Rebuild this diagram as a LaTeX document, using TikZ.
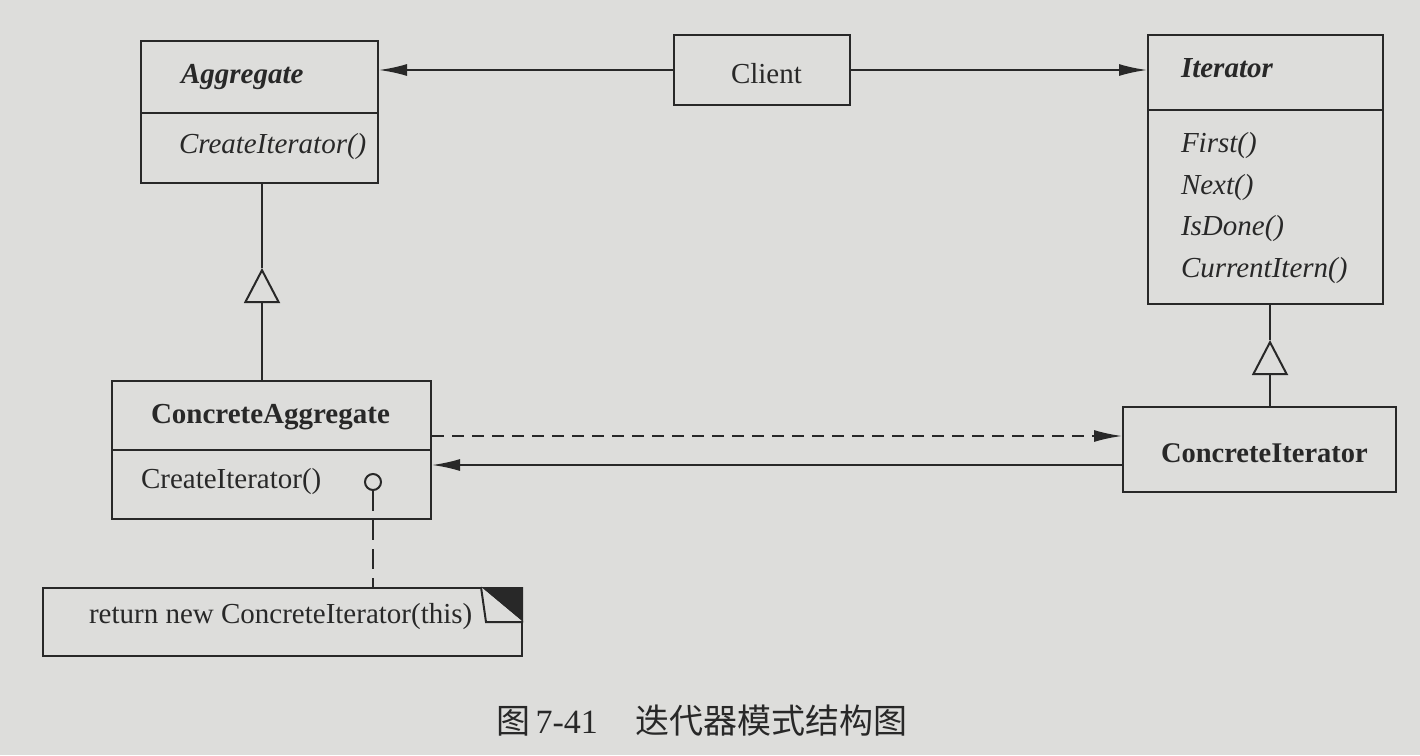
\documentclass[tikz,border=0pt]{standalone}
\usepackage{fontspec}
\setmainfont{Liberation Serif}
\newfontfamily\cjk{Noto Sans CJK SC}
\usetikzlibrary{arrows.meta,calc}
\definecolor{bg}{RGB}{221,221,219}
\definecolor{ink}{RGB}{40,40,40}
\begin{document}
\begin{tikzpicture}[x=1pt,y=-1pt,color=ink,
  box/.style={draw=ink,line width=2pt,rectangle,inner sep=0pt},
  txt/.style={anchor=base west,inner sep=0pt,text=ink,font=\fontsize{29}{34}\selectfont},
  fil/.style={-{Latex[length=28pt,width=12pt]}},
  inh/.style={-{Triangle[open,length=35pt,width=36pt]}},
  every path/.style={line width=2pt}]
\fill[bg] (0,0) rectangle (1420,755);
\useasboundingbox (0,0) rectangle (1420,755);
% boxes
\node[box,minimum width=237,minimum height=142] (agg) at (259.5,112) {};
\node[box,minimum width=176,minimum height=70] (client) at (762,70) {};
\node[box,minimum width=235,minimum height=269] (iter) at (1265.5,169.5) {};
\node[box,minimum width=319,minimum height=138] (ca) at (271.5,450) {};
\node[box,minimum width=273,minimum height=85] (ci) at (1259.5,449.5) {};
\node[box,minimum width=479,minimum height=68] (note) at (282.5,622) {};
% dividers
\draw (agg.west |- 0,113) -- (agg.east |- 0,113);
\draw (iter.west |- 0,110) -- (iter.east |- 0,110);
\draw (ca.west |- 0,450) -- (ca.east |- 0,450);
% texts
\node[txt,font=\fontsize{29}{34}\selectfont\bfseries\itshape] (aggT) at (180,83) {Aggregate};
\node[txt,font=\fontsize{29}{34}\selectfont\itshape] (aggM) at (178,153) {CreateIterator()};
\node[txt] (clientT) at (730,83) {Client};
\node[txt,font=\fontsize{29}{34}\selectfont\bfseries\itshape] (iterT) at (1180,77) {Iterator};
\node[txt,font=\fontsize{29}{34}\selectfont\itshape] (m1) at (1180,152) {First()};
\node[txt,font=\fontsize{29}{34}\selectfont\itshape] (m2) at (1180,194) {Next()};
\node[txt,font=\fontsize{29}{34}\selectfont\itshape] (m3) at (1180,235) {IsDone()};
\node[txt,font=\fontsize{29}{34}\selectfont\itshape] (m4) at (1180,277) {CurrentItern()};
\node[txt,font=\fontsize{29}{34}\selectfont\bfseries] (caT) at (150,423) {ConcreteAggregate};
\node[txt] (caM) at (140,488) {CreateIterator()};
\node[txt,font=\fontsize{28.5}{34}\selectfont\bfseries] (ciT) at (1160,462) {ConcreteIterator};
\node[txt] (noteT) at (88,623) {return new ConcreteIterator(this)};
\node[txt,font=\fontsize{34}{40}\selectfont] (cap) at (495,733) {{\cjk 图}\,7-41\hspace{1.1em}{\cjk 迭代器模式结构图}};
% dog ear
\fill[ink] ($(note.north east)+(-42,0)$) -- (note.north east) -- ($(note.north east)+(0,35)$) -- cycle;
\draw[fill=bg] ($(note.north east)+(-42,0)$) -- ($(note.north east)+(-37,35)$) -- ($(note.north east)+(0,35)$);
% knob
\node[circle,draw=ink,line width=2pt,minimum size=16pt,inner sep=0pt] (knob) at (373,482) {};
\draw[dash pattern=on 20pt off 9pt] (knob.south) -- (knob.south |- note.north);
% associations
\draw[fil] (client.west) -- (client.west -| agg.east);
\draw[fil] (client.east) -- (client.east -| iter.west);
\draw[fil,dash pattern=on 12pt off 8pt] ($(ca.east)+(0,-14)$) coordinate (d1) -- (d1 -| ci.west);
\draw[fil] ($(ci.west)+(0,15.5)$) coordinate (s1) -- (s1 -| ca.east);
% inheritance
\coordinate (t1) at (262,268);
\draw (t1 |- agg.south) -- (t1);
\draw[inh] (t1 |- ca.north) -- (t1);
\coordinate (t2) at (1270,340);
\draw (t2 |- iter.south) -- (t2);
\draw[inh] (t2 |- ci.north) -- (t2);
\end{tikzpicture}
\end{document}
